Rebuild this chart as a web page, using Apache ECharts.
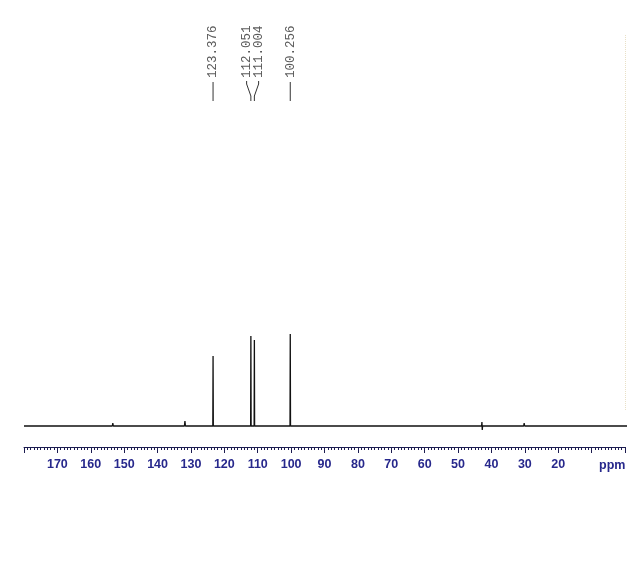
<!DOCTYPE html>
<html>
<head>
<meta charset="utf-8">
<script src="https://cdn.jsdelivr.net/npm/echarts@6/dist/echarts.min.js"></script>
<style>html,body{margin:0;padding:0;background:#fff}#c{width:628px;height:585px}</style>
</head>
<body>
<div id="c"></div>
<script>
// Spectrum: chemical shift (ppm) and intensity (arbitrary units, baseline = 0)
var shifts      = [180.0, 153.55, 153.4, 153.25, 131.95, 131.8, 131.65, 123.45, 123.376, 123.30, 112.12, 112.051, 111.98, 111.07, 111.004, 110.93, 100.33, 100.256, 100.18, 42.95, 42.85, 42.75, 42.65, 30.35, 30.2, 30.05, -1.0];
var intensities = [0,     0,      0.15,  0,      0,      0.25,  0,      0,      3.5,     0,      0,      4.5,     0,      0,      4.3,     0,      0,      4.6,     0,     0,     0.2,   -0.2,  0,     0,     0.15, 0,     0];
// Peak pick labels
var peakLabels = [123.376, 112.051, 111.004, 100.256];
// Axis tick labels
var tickLabels = [170, 160, 150, 140, 130, 120, 110, 100, 90, 80, 70, 60, 50, 40, 30, 20];
var unitLabel = 'ppm';

var spectrum = shifts.map(function (s, i) { return [s, intensities[i]]; });

var chart = echarts.init(document.getElementById('c'), null, {renderer: 'canvas'});

function labelPositions(api) {
  var px = peakLabels.map(function (v) { return api.coord([v, 0])[0]; });
  var order = px.map(function (p, i) { return i; }).sort(function (a, b) { return px[a] - px[b]; });
  var gap = 12, out = new Array(px.length);
  var clusters = [], cur = [order[0]];
  for (var k = 1; k < order.length; k++) {
    if (px[order[k]] - px[order[k - 1]] < gap) cur.push(order[k]);
    else { clusters.push(cur); cur = [order[k]]; }
  }
  clusters.push(cur);
  clusters.forEach(function (c) {
    var mean = c.reduce(function (s, i) { return s + px[i]; }, 0) / c.length;
    c.forEach(function (i, j) { out[i] = mean + (j - (c.length - 1) / 2) * gap; });
  });
  return {px: px, lx: out};
}

var option = {
  animation: false,
  backgroundColor: '#ffffff',
  grid: {left: 24, right: 3, top: 20, bottom: 138},
  xAxis: {
    type: 'value', inverse: true, min: 0, max: 180, interval: 10,
    axisLine: {show: true, onZero: false, lineStyle: {color: '#1c1c50', width: 1}},
    axisTick: {show: true, length: 6, lineStyle: {color: '#1c1c50'}},
    minorTick: {show: true, splitNumber: 10, length: 3, lineStyle: {color: '#1c1c50'}},
    splitLine: {show: false},
    axisLabel: {
      margin: 11, color: '#27288c', fontFamily: 'Liberation Sans, Arial, sans-serif',
      fontSize: 12.5, fontWeight: 'bold', showMinLabel: true, showMaxLabel: true,
      formatter: function (v) { return tickLabels.indexOf(v) >= 0 ? String(v) : ''; }
    }
  },
  yAxis: {type: 'value', min: -1.05, max: 20.3, show: false},
  graphic: [{
    type: 'text', left: 599, top: 459,
    style: {text: unitLabel, fill: '#27288c', font: 'bold 12.5px Liberation Sans, Arial, sans-serif'}
  }],
  series: [{
    type: 'line', data: spectrum, symbol: 'none', clip: false,
    lineStyle: {color: '#111111', width: 1.3},
    markLine: {
      silent: true, symbol: 'none', label: {show: false},
      lineStyle: {color: '#e9e0c6', type: 'dotted', width: 1},
      data: [[{coord: [0, 0.8]}, {coord: [0, 19.6]}]]
    }
  }, {
    type: 'custom', coordinateSystem: 'cartesian2d',
    data: peakLabels.map(function (v) { return [v, 0]; }),
    clip: false,
    renderItem: function (params, api) {
      var i = params.dataIndex;
      var lp = labelPositions(api);
      var px = lp.px[i], lx = lp.lx[i];
      var children = [{
        type: 'text', x: lx, y: 78, rotation: Math.PI / 2,
        style: {text: peakLabels[i].toFixed(3), fill: '#5a5a5a', font: '12.5px Liberation Mono, DejaVu Sans Mono, monospace', align: 'left', verticalAlign: 'middle'}
      }];
      var ls = {stroke: '#333333', lineWidth: 1};
      if (Math.abs(lx - px) < 0.5) {
        children.push({type: 'line', shape: {x1: px, y1: 82, x2: px, y2: 101}, style: ls});
      } else {
        children.push({type: 'polyline', shape: {points: [[lx, 81], [lx, 84], [px, 96], [px, 101]]}, style: Object.assign({fill: null}, ls)});
      }
      return {type: 'group', children: children};
    }
  }]
};
chart.setOption(option);
</script>
</body>
</html>
